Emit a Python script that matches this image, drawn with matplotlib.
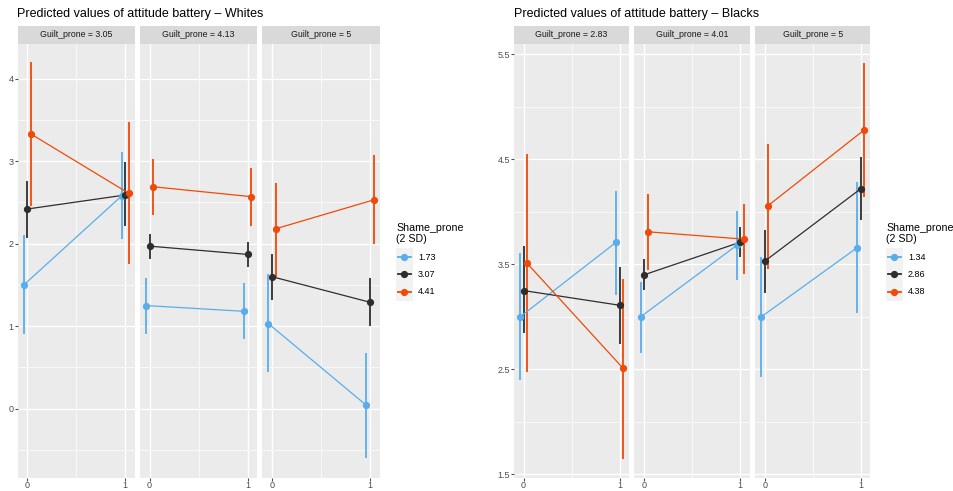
import matplotlib
matplotlib.use("Agg")
import matplotlib.pyplot as plt
from matplotlib.patches import Rectangle
from matplotlib.lines import Line2D
from matplotlib.ticker import MultipleLocator

# -----------------------------------------------------------------------------
# Data: predicted values (fit) with confidence limits, x = 0 / 1
# rows in each facet: low, mean, high shame proneness
# -----------------------------------------------------------------------------

x_vals = [0, 1]

white_guilt = ["3.05", "4.13", "5"]
white_shame = ["1.73", "3.07", "4.41"]
white_fit = [[[1.50, 2.58], [2.42, 2.59], [3.33, 2.61]],
             [[1.25, 1.18], [1.97, 1.87], [2.69, 2.57]],
             [[1.03, 0.04], [1.60, 1.29], [2.18, 2.53]]]
white_lo = [[[0.90, 2.06], [2.07, 2.21], [2.46, 1.75]],
            [[0.90, 0.84], [1.82, 1.72], [2.35, 2.22]],
            [[0.44, -0.60], [1.32, 1.00], [1.60, 1.99]]]
white_hi = [[[2.10, 3.11], [2.76, 2.99], [4.20, 3.47]],
            [[1.59, 1.52], [2.12, 2.02], [3.03, 2.92]],
            [[1.63, 0.68], [1.88, 1.58], [2.74, 3.08]]]

black_guilt = ["2.83", "4.01", "5"]
black_shame = ["1.34", "2.86", "4.38"]
black_fit = [[[3.00, 3.71], [3.25, 3.11], [3.51, 2.51]],
             [[3.00, 3.68], [3.40, 3.71], [3.81, 3.74]],
             [[3.00, 3.66], [3.53, 4.22], [4.06, 4.78]]]
black_lo = [[[2.40, 3.21], [2.85, 2.74], [2.47, 1.65]],
            [[2.66, 3.35], [3.26, 3.57], [3.45, 3.41]],
            [[2.43, 3.04], [3.23, 3.92], [3.46, 4.14]]]
black_hi = [[[3.61, 4.20], [3.67, 3.47], [4.55, 3.36]],
            [[3.33, 4.01], [3.55, 3.86], [4.17, 4.07]],
            [[3.57, 4.28], [3.83, 4.52], [4.65, 5.42]]]

colors = ["#5AADEB", "#2E2E2E", "#F04A08"]

# -----------------------------------------------------------------------------
# Layout helpers (pixel coordinates)
# -----------------------------------------------------------------------------

W, H = 954, 491
plt.rcParams["font.family"] = ["Liberation Sans", "DejaVu Sans"]
fig = plt.figure(figsize=(W / 100, H / 100), dpi=100)

def px_axes(x0, y0, x1, y1):
    return fig.add_axes([x0 / W, 1 - y1 / H, (x1 - x0) / W, (y1 - y0) / H])

PTOP, PBOT, STRIP = 44, 478, 18
dodge = [-0.036, 0.0, 0.036]

def facet(ax, fit, lo, hi, guilt, ylim, ymaj, first):
    ax.set_facecolor("#EBEBEB")
    for s in ax.spines.values():
        s.set_visible(False)
    ax.set_xlim(-0.1, 1.1)
    ax.set_ylim(*ylim)
    ax.xaxis.set_major_locator(MultipleLocator(1))
    ax.xaxis.set_minor_locator(MultipleLocator(0.5))
    ax.yaxis.set_major_locator(MultipleLocator(ymaj))
    ax.yaxis.set_minor_locator(MultipleLocator(ymaj / 2))
    ax.grid(which="major", color="white", lw=1.0)
    ax.grid(which="minor", color="white", lw=0.5)
    ax.set_axisbelow(True)
    ax.tick_params(which="minor", length=0)
    ax.tick_params(which="major", length=2, width=0.8, color="#4D4D4D",
                   labelsize=6.5, labelcolor="#4D4D4D", pad=1)
    ax.tick_params(axis="x", pad=0.5)
    ax.set_xticks([0, 1])
    ax.set_xticklabels(["0", "1"])
    if not first:
        ax.tick_params(axis="y", left=False, labelleft=False)
    for k in range(3):
        xs = [v + dodge[k] for v in x_vals]
        ax.vlines(xs, lo[k], hi[k], color=colors[k], lw=1.3, zorder=3)
        ax.plot(xs, fit[k], color=colors[k], lw=0.9, zorder=4)
        ax.plot(xs, fit[k], "o", color=colors[k], ms=4.2, zorder=5)
    ax.add_patch(Rectangle((0, 1), 1, STRIP / (PBOT - PTOP), transform=ax.transAxes,
                           facecolor="#D9D9D9", edgecolor="none", clip_on=False))
    ax.text(0.5, 1 + STRIP / 2 / (PBOT - PTOP), "Guilt_prone = " + guilt,
            transform=ax.transAxes, ha="center", va="center", fontsize=6.3,
            color="#1A1A1A")

def legend(x0, labels):
    fig.text(x0 / W, 1 - 223 / H, "Shame_prone\n(2 SD)", fontsize=7.7, va="top",
             ha="left", color="black", linespacing=1.15)
    fig.add_artist(Rectangle(((x0) / W, 1 - 301 / H), 17 / W, 53 / H,
                             transform=fig.transFigure, facecolor="#F2F2F2",
                             edgecolor="none"))
    for k, lab in enumerate(labels):
        yc = 1 - (257 + 17.3 * k) / H
        fig.add_artist(Line2D([(x0 + 2) / W, (x0 + 15) / W], [yc, yc],
                              transform=fig.transFigure, color=colors[k], lw=1.3))
        fig.add_artist(Line2D([(x0 + 8.5) / W], [yc], marker="o", ms=4.2,
                              transform=fig.transFigure, color=colors[k]))
        fig.text((x0 + 22) / W, yc, lab, fontsize=6.5, va="center", ha="left",
                 color="black")

# -----------------------------------------------------------------------------
# Whites
# -----------------------------------------------------------------------------

for i, x0 in enumerate([17.5, 139.8, 262.2]):
    ax = px_axes(x0, PTOP, x0 + 117.6, PBOT)
    facet(ax, white_fit[i], white_lo[i], white_hi[i], white_guilt[i],
          (-0.84, 4.42), 1, i == 0)
fig.text(17 / W, 1 - 14 / H, "Predicted values of attitude battery \u2013 Whites",
         fontsize=9.0, va="center", ha="left")
legend(396, white_shame)

# -----------------------------------------------------------------------------
# Blacks
# -----------------------------------------------------------------------------

for i, x0 in enumerate([514.0, 634.5, 755.2]):
    ax = px_axes(x0, PTOP, x0 + 115.2, PBOT)
    facet(ax, black_fit[i], black_lo[i], black_hi[i], black_guilt[i],
          (1.465, 5.598), 1, i == 0)
    ax.set_yticks([1.5, 2.5, 3.5, 4.5, 5.5])
    ax.yaxis.set_minor_locator(MultipleLocator(0.5))
fig.text(514 / W, 1 - 14 / H, "Predicted values of attitude battery \u2013 Blacks",
         fontsize=9.0, va="center", ha="left")
legend(886, black_shame)

fig.savefig("out.png", dpi=100)
